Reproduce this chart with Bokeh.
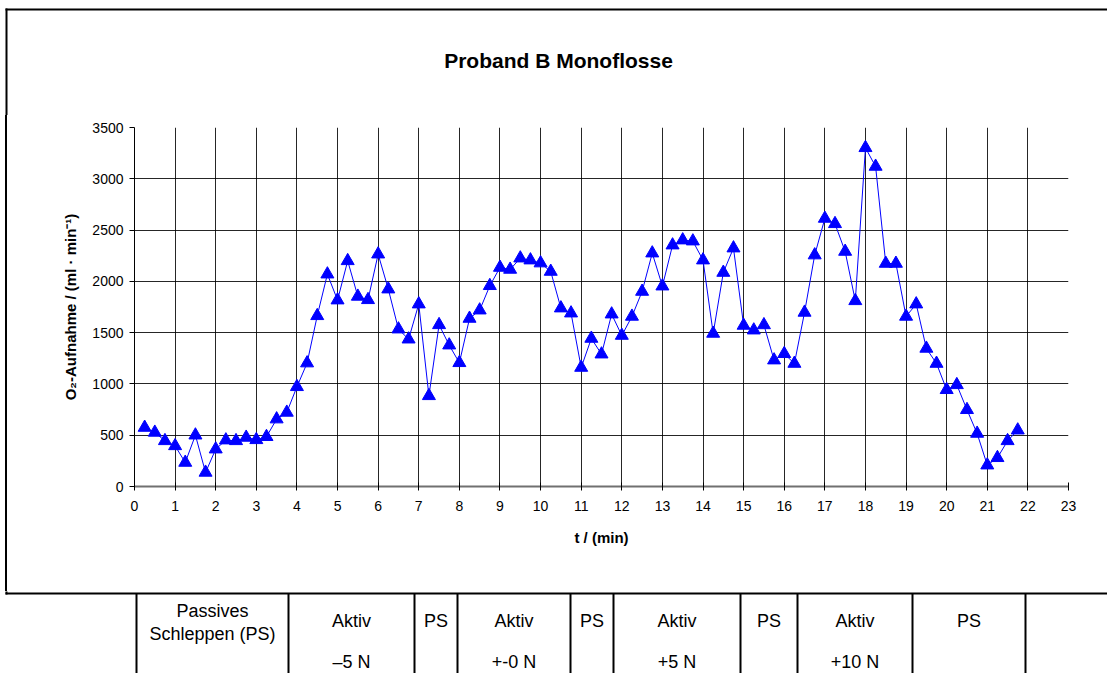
from bokeh.plotting import figure
from bokeh.layouts import column, row
from bokeh.models import Range1d, FixedTicker, ColumnDataSource, Div
from bokeh.core.properties import value
from bokeh.embed import file_html
from bokeh.resources import INLINE

# ---------------- data ----------------
time_min = [0.25, 0.5, 0.75, 1.0, 1.25, 1.5, 1.75, 2.0, 2.25, 2.5, 2.75, 3.0, 3.25, 3.5, 3.75,
            4.0, 4.25, 4.5, 4.75, 5.0, 5.25, 5.5, 5.75, 6.0, 6.25, 6.5, 6.75, 7.0, 7.25, 7.5,
            7.75, 8.0, 8.25, 8.5, 8.75, 9.0, 9.25, 9.5, 9.75, 10.0, 10.25, 10.5, 10.75, 11.0,
            11.25, 11.5, 11.75, 12.0, 12.25, 12.5, 12.75, 13.0, 13.25, 13.5, 13.75, 14.0, 14.25,
            14.5, 14.75, 15.0, 15.25, 15.5, 15.75, 16.0, 16.25, 16.5, 16.75, 17.0, 17.25, 17.5,
            17.75, 18.0, 18.25, 18.5, 18.75, 19.0, 19.25, 19.5, 19.75, 20.0, 20.25, 20.5, 20.75,
            21.0, 21.25, 21.5, 21.75]
o2_uptake = [575, 527, 445, 396, 234, 500, 137, 364, 452, 445, 478, 455, 485, 657, 722,
             972, 1203, 1664, 2070, 1817, 2200, 1853, 1820, 2265, 1924, 1534, 1436, 1778, 884, 1576,
             1378, 1206, 1638, 1719, 1957, 2135, 2116, 2226, 2207, 2178, 2096, 1739, 1690, 1160,
             1443, 1290, 1680, 1472, 1658, 1901, 2275, 1953, 2353, 2402, 2392, 2207, 1492,
             2086, 2324, 1570, 1524, 1575, 1232, 1294, 1199, 1697, 2256, 2613, 2561, 2291,
             1810, 3302, 3120, 2174, 2174, 1658, 1778, 1346, 1199, 943, 991, 748, 517,
             208, 280, 445, 549]
x_ticks = list(range(0, 24))
y_ticks = [0, 500, 1000, 1500, 2000, 2500, 3000, 3500]

title_text = "Proband B Monoflosse"
x_label = "t / (min)"
y_label = "O\u2082-Aufnahme / (ml \u00b7 min\u207b\u00b9)"

# phase table under the chart
table_row1_top = ["Passives", "Aktiv", "PS", "Aktiv", "PS", "Aktiv", "PS", "Aktiv", "PS", ""]
table_row1_second = ["Schleppen (PS)", "", "", "", "", "", "", "", "", ""]
table_row2 = ["", "\u20135 N", "", "+-0 N", "", "+5 N", "", "+10 N", "", ""]

# ---------------- layout (page pixels) ----------------
W, H = 1107, 673
FONT = "Liberation Sans"
BAND_TOP_H = 115          # title band: page y 0..115
CHART_H = 476             # chart: page y 115..591
TABLE_H = H - BAND_TOP_H - CHART_H   # table: page y 591..673
LEFT_W = 8                # left strip with the chart frame border
table_edges = [136, 288, 414, 457, 570, 613, 740, 797, 912, 1025, 1200]
frame_left_x = 5


def blank(width, height, x0, x1, y0, y1):
    f = figure(width=width, height=height, output_backend="svg", toolbar_location=None,
               x_range=Range1d(x0, x1), y_range=Range1d(y1, y0),
               x_axis_type=None, y_axis_type=None, min_border=0)
    f.outline_line_color = None
    f.grid.visible = False
    f.background_fill_color = "white"
    f.border_fill_color = "white"
    return f


# ---- title band ----
top = blank(W, BAND_TOP_H, 0, W, 0, BAND_TOP_H)
top.segment(x0=[frame_left_x], y0=[9], x1=[W + 10], y1=[9], line_color="black", line_width=2)
top.segment(x0=[frame_left_x + 1], y0=[8], x1=[frame_left_x + 1], y1=[BAND_TOP_H + 2],
            line_color="black", line_width=2)
top.text(x=[558], y=[60], text=[title_text], text_align="center", text_baseline="middle",
         text_font=value(FONT), text_font_size="21px", text_font_style="bold",
         text_color="black")

# ---- left strip (frame border beside the chart) ----
left = Div(width=LEFT_W, height=CHART_H, margin=0,
           text='<div style="margin-left:%dpx;width:2px;height:%dpx;background:#000000;"></div>'
           % (frame_left_x, CHART_H))

# ---- chart ----
p = figure(width=W - LEFT_W, height=CHART_H, output_backend="svg", toolbar_location=None,
           x_range=Range1d(0, 23), y_range=Range1d(0, 3500),
           min_border_left=126, min_border_right=39, min_border_top=12, min_border_bottom=105)
p.outline_line_color = None
p.background_fill_color = "white"
p.border_fill_color = "white"

p.xaxis.ticker = FixedTicker(ticks=x_ticks)
p.yaxis.ticker = FixedTicker(ticks=y_ticks)
p.xgrid.ticker = FixedTicker(ticks=x_ticks)
p.ygrid.ticker = FixedTicker(ticks=y_ticks)
for g in (p.xgrid, p.ygrid):
    g.grid_line_color = "#000000"
    g.grid_line_alpha = 0.85
    g.grid_line_width = 1

for ax in (p.xaxis, p.yaxis):
    ax.major_label_text_font = FONT
    ax.major_label_text_font_size = "14px"
    ax.major_label_text_color = "#000000"
    ax.axis_label_text_font = FONT
    ax.axis_label_text_font_size = "15px"
    ax.axis_label_text_font_style = "bold"
    ax.axis_label_text_color = "#000000"
    ax.minor_tick_line_color = None
    ax.major_tick_line_color = "#000000"

p.xaxis.axis_label = x_label
p.yaxis.axis_label = y_label
p.xaxis.axis_line_color = "#707070"
p.xaxis.axis_line_width = 2
p.yaxis.axis_line_color = "#000000"
p.xaxis.major_tick_in = 4
p.xaxis.major_tick_out = 4
p.yaxis.major_tick_in = 0
p.yaxis.major_tick_out = 5
p.xaxis.major_label_standoff = 10
p.yaxis.major_label_standoff = 6
p.xaxis.axis_label_standoff = 15
p.yaxis.axis_label_standoff = 10

src = ColumnDataSource(dict(t=time_min, v=o2_uptake))
p.line("t", "v", source=src, line_color="#0000FF", line_width=1)
p.scatter("t", "v", source=src, marker="triangle", size=13,
          fill_color="#0000FF", line_color="#0000FF", line_width=1)

# ---- table ----
t0 = BAND_TOP_H + CHART_H
tab = blank(W, TABLE_H, 0, W, t0, H)
tab.segment(x0=[frame_left_x], y0=[593], x1=[W + 10], y1=[593], line_color="black", line_width=2)
tab.segment(x0=[frame_left_x + 1], y0=[t0 - 2], x1=[frame_left_x + 1], y1=[594],
            line_color="black", line_width=2)
n_cells = len(table_edges) - 1
tab.segment(x0=table_edges, y0=[593] * len(table_edges), x1=table_edges,
            y1=[H + 10] * len(table_edges), line_color="black", line_width=2)
mids = [(table_edges[i] + table_edges[i + 1]) / 2 for i in range(n_cells)]
mids[-1] = (table_edges[-2] + W) / 2
y_first = [610 if table_row1_second[i] else 620 for i in range(n_cells)]
tab.text(x=mids, y=y_first, text=table_row1_top, text_align="center", text_baseline="middle",
         text_font=value(FONT), text_font_size="18px", text_color="black")
tab.text(x=mids, y=[633] * n_cells, text=table_row1_second, text_align="center",
         text_baseline="middle", text_font=value(FONT), text_font_size="18px", text_color="black")
tab.text(x=mids, y=[661] * n_cells, text=table_row2, text_align="center", text_baseline="middle",
         text_font=value(FONT), text_font_size="18px", text_color="black")

layout = column(top, row(left, p), tab)
open("out.html", "w").write(file_html(layout, INLINE))
